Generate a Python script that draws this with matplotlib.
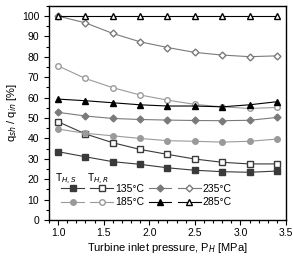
import matplotlib
matplotlib.use('Agg')
import matplotlib.pyplot as plt
from matplotlib.legend_handler import HandlerTuple
from matplotlib.ticker import MultipleLocator

plt.rcParams['font.family'] = ['Liberation Sans', 'DejaVu Sans']

pressure = [1.0, 1.3, 1.6, 1.9, 2.2, 2.5, 2.8, 3.1, 3.4]

# T_H,S series (filled markers)
s135 = [33.5, 31.0, 28.6, 27.3, 25.6, 24.4, 23.7, 23.4, 24.0]
s185 = [44.6, 42.5, 41.3, 40.0, 38.9, 38.6, 38.2, 38.6, 39.7]
s235 = [52.8, 51.0, 49.8, 49.3, 49.0, 48.8, 48.7, 48.9, 50.3]
s285 = [59.3, 58.5, 57.5, 56.5, 55.9, 55.9, 55.5, 56.5, 58.0]

# T_H,R series (open markers)
r135 = [48.2, 42.2, 37.9, 34.6, 32.2, 29.9, 28.3, 27.5, 27.5]
r185 = [75.6, 69.4, 64.9, 61.3, 58.8, 56.7, 55.5, 54.7, 55.2]
r235 = [100.0, 96.7, 91.5, 87.4, 84.6, 82.2, 80.9, 80.1, 80.5]
r285 = [100.0, 100.0, 100.0, 100.0, 100.0, 100.0, 100.0, 100.0, 100.0]

labels = ['135°C', '185°C', '235°C', '285°C']

fig = plt.figure(figsize=(2.93, 2.57), dpi=100)
ax = fig.add_axes([0.167, 0.144, 0.809, 0.833])

c135 = '#3a3a3a'
c185 = '#9a9a9a'
c235 = '#7a7a7a'
c285 = '#000000'
ms = 4
lw = 0.8

h = []
for s, r, col, mk in [(s135, r135, c135, 's'), (s185, r185, c185, 'o'),
                      (s235, r235, c235, 'D'), (s285, r285, c285, '^')]:
    m = ms - 0.5 if mk == 'D' else ms
    a, = ax.plot(pressure, s, color=col, marker=mk, ms=m, lw=lw, mfc=col, mec=col)
    b, = ax.plot(pressure, r, color=col, marker=mk, ms=m, lw=lw, mfc='white', mec=col)
    h.append((a, b))

ax.set_xlim(0.9, 3.5)
ax.set_ylim(0, 105)
ax.xaxis.set_major_locator(MultipleLocator(0.5))
ax.xaxis.set_minor_locator(MultipleLocator(0.1))
ax.yaxis.set_major_locator(MultipleLocator(10))
ax.yaxis.set_minor_locator(MultipleLocator(5))
ax.tick_params(which='both', direction='out', labelsize=7.5, width=0.8)
ax.tick_params(which='major', length=3.5)
ax.tick_params(which='minor', length=2)
ax.tick_params(axis='x', pad=2.5)
ax.set_xticks([1.0, 1.5, 2.0, 2.5, 3.0, 3.5])
ax.set_xticklabels(['1.0', '1.5', '2.0', '2.5', '3.0', '3.5'])
for sp in ax.spines.values():
    sp.set_linewidth(1.0)

ax.set_xlabel('Turbine inlet pressure, P$_{H}$ [MPa]', fontsize=8, labelpad=2)
ax.set_ylabel('q$_{sh}$ / q$_{in}$ [%]', fontsize=8, labelpad=2)

leg = ax.legend(handles=[h[0], h[1], h[2], h[3]], labels=labels, ncol=2,
                handler_map={tuple: HandlerTuple(ndivide=None, pad=0.6)},
                handlelength=5.0, handletextpad=0.2, columnspacing=0.4,
                frameon=False, fontsize=7.5, loc='lower left',
                bbox_to_anchor=(0.025, 0.03), labelspacing=0.35, borderaxespad=0.2)

fig.text(0.225, 0.29, 'T$_{H,S}$', fontsize=7.5, ha='center')
fig.text(0.335, 0.29, 'T$_{H,R}$', fontsize=7.5, ha='center')

fig.savefig('out.png', dpi=100)
